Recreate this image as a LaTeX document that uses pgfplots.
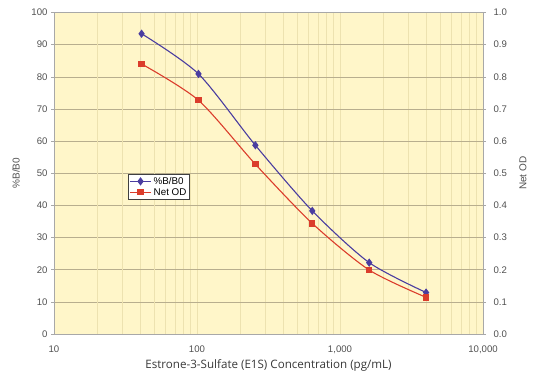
\documentclass[border=0pt]{standalone}
\usepackage{pgfplots}
\pgfplotsset{compat=1.18}
\usepackage{fontspec}
\setmainfont{Liberation Sans}
\newfontfamily\osans{Open Sans}
\definecolor{bg}{HTML}{FFF6C9}
\definecolor{bluep}{HTML}{4A3DA0}
\definecolor{redp}{HTML}{DB3D2C}
\definecolor{gridmaj}{HTML}{B8AE8E}
\definecolor{gridmin}{HTML}{EDE2B0}
\definecolor{axgray}{HTML}{A8A8A8}
\definecolor{txtgray}{HTML}{505050}
\begin{document}
\begin{tikzpicture}
\useasboundingbox (-54pt,-50pt) rectangle (482pt,334pt);
\begin{axis}[
  at={(0,0)}, anchor=south west,
  scale only axis, width=429pt, height=321.5pt,
  xmode=log, xmin=10, xmax=10000,
  ymin=0, ymax=100,
  ytick={0,10,...,100},
  ytick pos=left,
  xtick={10,100,1000,10000},
  xticklabels={10,100,{1,000},{10,000}},
  /pgf/number format/assume math mode=true,
  axis background/.style={fill=bg},
  axis line style={axgray, line width=0.9pt},
  tick align=outside,
  major tick length=3pt,
  ytick style={axgray, line width=0.6pt},
  xtick style={draw=none},
  minor tick length=0pt,
  xminorgrids=true, xmajorgrids=true, ymajorgrids=true,
  major grid style={gridmaj, line width=0.5pt},
  minor x grid style={gridmin, line width=0.6pt},
  x grid style={gridmin, line width=0.6pt},
  extra x ticks={20,30,50},
  extra x tick labels={},
  extra x tick style={grid=major, major grid style={gridmaj, line width=0.6pt}, xtick style={draw=none}},
  ticklabel style={font=\fontsize{9.6}{10}\selectfont, text=txtgray},
  xticklabel style={yshift=-5pt},
  every axis y label/.style={at={(axis description cs:0,0.5)}, rotate=90, anchor=center, yshift=38pt, font=\fontsize{10}{11}\selectfont, text=txtgray},
  every axis x label/.style={at={(axis description cs:0.5,0)}, anchor=center, yshift=-31pt, font=\osans\fontsize{11.6}{13}\selectfont, text=txtgray!70!black},
  ylabel={\%B/B0},
  xlabel={Estrone-3-Sulfate (E1S) Concentration (pg/mL)},
]
\addplot[bluep, line width=1.1pt, smooth, tension=0.45, mark=diamond*, mark size=3.3pt, mark options={solid}] coordinates {
(40.96,93.4) (102.4,80.9) (256,58.7) (640,38.3) (1600,22.2) (4000,12.9)
};
\end{axis}
\begin{axis}[
  at={(0,0)}, anchor=south west,
  scale only axis, width=429pt, height=321.5pt,
  xmode=log, xmin=10, xmax=10000,
  ymin=0, ymax=1,
  ytick={0,0.1,...,1.0},
  ytick pos=right,
  xtick=\empty,
  yticklabel style={/pgf/number format/fixed, /pgf/number format/fixed zerofill, /pgf/number format/precision=1, xshift=4pt},
  /pgf/number format/assume math mode=true,
  axis line style={axgray, line width=0.9pt},
  tick align=outside,
  major tick length=3pt,
  ytick style={axgray, line width=0.6pt},
  ticklabel style={font=\fontsize{9.6}{10}\selectfont, text=txtgray},
  every axis y label/.style={at={(axis description cs:1,0.5)}, rotate=90, anchor=center, yshift=-40pt, font=\fontsize{10}{11}\selectfont, text=txtgray},
  ylabel={Net OD},
  legend style={at={(axis description cs:0.172,0.499)}, anchor=north west, draw=black!75, line width=0.6pt, fill=white, font=\fontsize{9.8}{10}\selectfont, inner sep=1.2pt, row sep=-1.5pt, cells={anchor=west}},
  legend image code/.code={\draw[#1] (0cm,0cm) -- (0.75cm,0cm); \draw[#1, mark repeat=1] plot coordinates {(0.375cm,0cm)};},
]
\addlegendimage{bluep, line width=1.1pt, mark=diamond*, mark size=3.3pt}
\addlegendentry{\%B/B0}
\addplot[redp, line width=1.1pt, smooth, tension=0.45, mark=square*, mark size=2.6pt, mark options={solid}] coordinates {
(40.96,0.840) (102.4,0.727) (256,0.528) (640,0.344) (1600,0.199) (4000,0.114)
};
\addlegendentry{Net OD}
\end{axis}
\end{tikzpicture}
\end{document}
